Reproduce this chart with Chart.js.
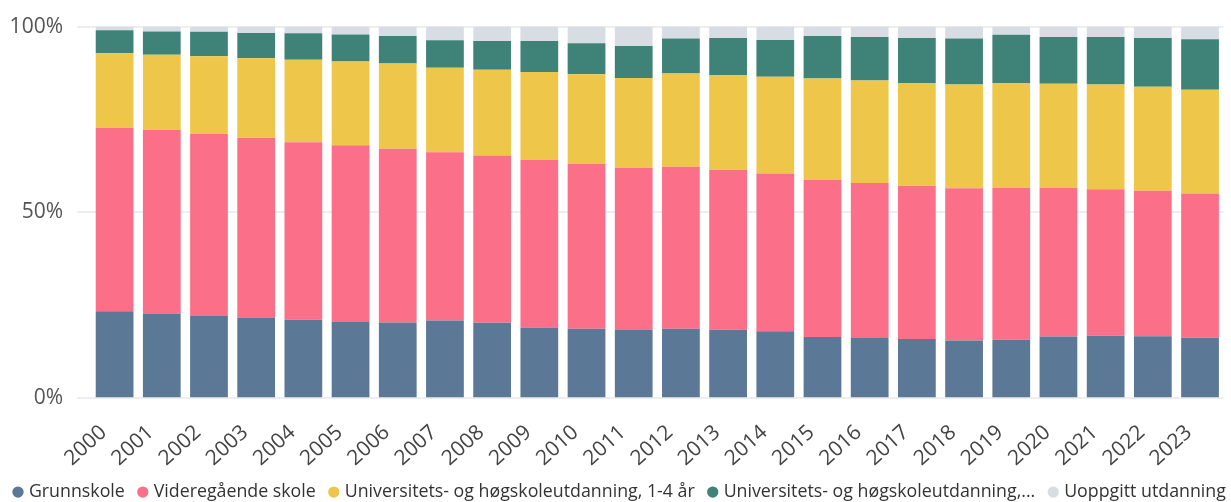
<!DOCTYPE html>
<html>
<head>
<meta charset="utf-8">
<script src="https://cdn.jsdelivr.net/npm/chart.js@4"></script>
<style>
  body { margin: 0; background: #fff; }
  #wrap { width: 1231px; height: 502px; position: relative; }
</style>
</head>
<body>
<div id="wrap"><canvas id="chart"></canvas></div>
<script>
const years = ['2000','2001','2002','2003','2004','2005','2006','2007','2008','2009','2010','2011',
               '2012','2013','2014','2015','2016','2017','2018','2019','2020','2021','2022','2023'];

const seriesNames = ['Grunnskole', 'Videregående skole', 'Universitets- og høgskoleutdanning, 1-4 år',
                     'Universitets- og høgskoleutdanning,...', 'Uoppgitt utdanning'];

// andeler i prosent
const grunnskole = [23.4,22.8,22.1,21.7,21.1,20.5,20.4,20.9,20.3,19.0,18.7,18.5,18.7,18.4,18.0,16.5,16.2,15.9,15.5,15.7,16.6,16.8,16.7,16.3];
const videregaende = [49.4,49.4,49.0,48.4,47.8,47.6,46.7,45.3,45.0,45.1,44.3,43.5,43.6,43.1,42.5,42.2,41.7,41.3,41.0,40.9,40.0,39.4,39.1,38.8];
const uniKort = [20.0,20.2,20.9,21.4,22.2,22.5,23.0,22.7,23.1,23.7,24.2,24.2,25.1,25.5,26.0,27.3,27.6,27.6,27.9,28.2,28.0,28.2,28.0,27.9];
const uniLang = [6.2,6.3,6.6,6.8,7.1,7.3,7.4,7.4,7.7,8.3,8.3,8.6,9.4,9.9,9.9,11.5,11.7,12.1,12.4,13.0,12.6,12.8,13.1,13.6];
const uoppgitt = [1.0,1.3,1.4,1.7,1.8,2.1,2.5,3.7,3.9,3.9,4.5,5.2,3.2,3.1,3.6,2.5,2.8,3.1,3.2,2.2,2.8,2.8,3.1,3.4];

const yTicks = [0, 50, 100];

const colors = ['#5b7896', '#fb7088', '#eec74a', '#3f8378', '#d8dde4'];
const values = [grunnskole, videregaende, uniKort, uniLang, uoppgitt];

const fontFamily = '"Open Sans", "Noto Sans", sans-serif';

// legenden skal holde seg på én linje helt ut til kanten
const legendOneLine = {
    id: 'legendOneLine',
    afterInit(chart) {
        const lg = chart.legend;
        if (!lg) return;
        const fit = lg.fit, draw = lg.draw;
        lg.fit = function () {
            const w = this.maxWidth;
            this.maxWidth = w + 60;
            fit.call(this);
            this.maxWidth = w;
            this.width = w;
        };
        lg.draw = function () {
            this.right += 60;
            draw.call(this);
            this.right -= 60;
        };
    }
};

new Chart(document.getElementById('chart'), {
    type: 'bar',
    data: {
        labels: years,
        datasets: values.map((d, i) => ({
            label: seriesNames[i],
            data: d,
            backgroundColor: colors[i],
            borderWidth: 0,
            barPercentage: 0.8,
            categoryPercentage: 1.0
        }))
    },
    plugins: [legendOneLine],
    options: {
        responsive: true,
        maintainAspectRatio: false,
        animation: false,
        layout: { padding: { top: 3, right: 5, left: 0, bottom: -9 } },
        plugins: {
            tooltip: { enabled: false },
            legend: {
                position: 'bottom',
                align: 'start',
                labels: {
                    usePointStyle: true,
                    pointStyle: 'circle',
                    boxWidth: 4,
                    boxHeight: 8,
                    padding: 16,
                    color: '#333',
                    font: { family: fontFamily, size: 17.8 }
                }
            }
        },
        scales: {
            x: {
                stacked: true,
                grid: { display: false },
                border: { display: false },
                afterFit: axis => { axis.height = 69; },
                ticks: {
                    color: '#444',
                    font: { family: fontFamily, size: 21 },
                    minRotation: 42,
                    maxRotation: 42,
                    labelOffset: -11,
                    padding: 14
                }
            },
            y: {
                stacked: true,
                min: 0,
                max: 100,
                afterBuildTicks: axis => { axis.ticks = yTicks.map(v => ({ value: v })); },
                afterFit: axis => { axis.width = 91; },
                grid: { color: '#eceef1', lineWidth: 2, tickLength: 14 },
                border: { display: false },
                ticks: {
                    color: '#555',
                    padding: 14,
                    font: { family: fontFamily, size: 21 },
                    callback: v => v + '%'
                }
            }
        }
    }
});
</script>
</body>
</html>
